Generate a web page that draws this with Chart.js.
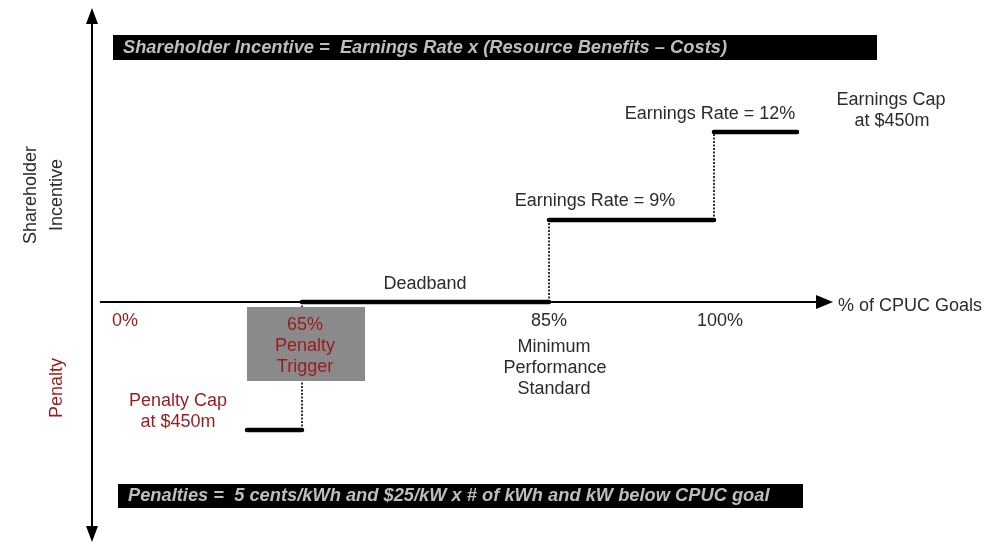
<!DOCTYPE html>
<html>
<head>
<meta charset="utf-8">
<script src="https://cdn.jsdelivr.net/npm/chart.js@4"></script>
<style>
  body { margin: 0; background: #fff; }
  #wrap { width: 1003px; height: 544px; }
</style>
</head>
<body>
<div id="wrap"><canvas id="incentiveChart" width="1003" height="544"></canvas></div>
<script>
// schematic units: x runs along "% of CPUC Goals", y is the incentive level (0 = axis)
const stepStarts = [247, 302, 549, 714];
const stepEnds = [302, 549, 714, 797];
const stepLevels = [-128, 0, 82, 170];
const stepNames = ["Penalty Cap", "Deadband", "Earnings Rate = 9%", "Earnings Rate = 12%"];

const goalTicks = ["0%", "85%", "100%"];
const goalTickPos = [125, 549, 720];

const DARK = "#2b2b2b";
const RED = "#9a1b1e";
const FONT = "'Liberation Sans', Arial, sans-serif";
const F18 = "18px " + FONT;

const datasets = [];
stepStarts.forEach((x0, i) => {
  datasets.push({
    label: stepNames[i],
    data: [{ x: x0, y: stepLevels[i] }, { x: stepEnds[i], y: stepLevels[i] }],
    borderColor: "#000",
    borderWidth: 4.5,
    borderCapStyle: "round",
    pointRadius: 0,
    showLine: true,
  });
  if (i > 0) {
    datasets.push({
      label: "riser " + i,
      data: [{ x: x0, y: stepLevels[i - 1] }, { x: x0, y: stepLevels[i] }],
      borderColor: "#333",
      borderWidth: 2,
      borderDash: [2, 1.5],
      pointRadius: 0,
      showLine: true,
    });
  }
});

function text(ctx, str, x, y, color, align, font) {
  ctx.fillStyle = color;
  ctx.textAlign = align || "center";
  ctx.textBaseline = "middle";
  ctx.font = font || F18;
  ctx.fillText(str, x, y);
}

const decorations = {
  id: "decorations",
  beforeDatasetsDraw(chart) {
    const ctx = chart.ctx;
    const sx = chart.scales.x, sy = chart.scales.y;
    const px = (v) => sx.getPixelForValue(v);
    const py = (v) => sy.getPixelForValue(v);
    ctx.save();

    // banners
    ctx.fillStyle = "#000";
    ctx.fillRect(113, 35, 764, 25);
    ctx.fillRect(118, 484, 685, 24);
    ctx.font = "italic bold 18.3px " + FONT;
    ctx.fillStyle = "#bdbdbd";
    ctx.textAlign = "left";
    ctx.textBaseline = "middle";
    ctx.fillText("Shareholder Incentive =  Earnings Rate x (Resource Benefits \u2013 Costs)", 123, 48);
    ctx.fillText("Penalties =  5 cents/kWh and $25/kW x # of kWh and kW below CPUC goal", 128, 496);

    // axes
    ctx.strokeStyle = "#000";
    ctx.fillStyle = "#000";
    ctx.lineWidth = 2;
    const ax = px(92);
    ctx.beginPath();
    ctx.moveTo(ax, py(280));
    ctx.lineTo(ax, py(-225));
    ctx.stroke();
    ctx.beginPath();
    ctx.moveTo(ax, py(294)); ctx.lineTo(ax - 6, py(278)); ctx.lineTo(ax + 6, py(278)); ctx.closePath(); ctx.fill();
    ctx.beginPath();
    ctx.moveTo(ax, py(-240)); ctx.lineTo(ax - 6, py(-224)); ctx.lineTo(ax + 6, py(-224)); ctx.closePath(); ctx.fill();

    const ay = py(0);
    ctx.beginPath();
    ctx.moveTo(px(100), ay);
    ctx.lineTo(px(818), ay);
    ctx.stroke();
    ctx.beginPath();
    ctx.moveTo(px(833), ay); ctx.lineTo(px(816), ay - 7); ctx.lineTo(px(816), ay + 7); ctx.closePath(); ctx.fill();

    // axis titles
    ctx.save();
    ctx.translate(31, 195);
    ctx.rotate(-Math.PI / 2);
    text(ctx, "Shareholder", 0, 0, DARK);
    text(ctx, "Incentive", 0, 26, DARK);
    ctx.restore();
    ctx.save();
    ctx.translate(57, 388);
    ctx.rotate(-Math.PI / 2);
    text(ctx, "Penalty", 0, 0, RED);
    ctx.restore();

    // goal ticks
    goalTicks.forEach((t, i) => text(ctx, t, px(goalTickPos[i]), py(-19), i === 0 ? RED : DARK));
    text(ctx, "% of CPUC Goals", px(838), ay + 4, DARK, "left");

    // step labels
    text(ctx, "Deadband", px(425), py(18), DARK);
    text(ctx, "Earnings Rate = 9%", px(595), py(101), DARK);
    text(ctx, "Earnings Rate = 12%", px(710), py(188), DARK);
    text(ctx, "Earnings Cap", px(891), py(202), DARK);
    text(ctx, "at $450m", px(892), py(181), DARK);
    text(ctx, "Minimum", px(554), py(-45), DARK);
    text(ctx, "Performance", px(555), py(-66), DARK);
    text(ctx, "Standard", px(554), py(-87), DARK);
    text(ctx, "Penalty Cap", px(178), py(-99), RED);
    text(ctx, "at $450m", px(178), py(-120), RED);

    ctx.restore();
  },
  afterDatasetsDraw(chart) {
    const ctx = chart.ctx;
    const sx = chart.scales.x, sy = chart.scales.y;
    const px = (v) => sx.getPixelForValue(v);
    const py = (v) => sy.getPixelForValue(v);
    ctx.save();
    // gray trigger box sits over the riser
    ctx.fillStyle = "#8a8a8a";
    ctx.fillRect(px(247), py(-5), 118, 74);
    text(ctx, "65%", px(305), py(-23), RED);
    text(ctx, "Penalty", px(305), py(-44), RED);
    text(ctx, "Trigger", px(305), py(-65), RED);
    ctx.restore();
  },
};

new Chart(document.getElementById("incentiveChart").getContext("2d"), {
  type: "scatter",
  data: { datasets },
  options: {
    responsive: false,
    animation: false,
    layout: { padding: 0 },
    scales: {
      x: { type: "linear", display: false, min: 0, max: 1003 },
      y: { type: "linear", display: false, min: -242, max: 302 },
    },
    plugins: {
      legend: { display: false },
      tooltip: { enabled: false },
    },
  },
  plugins: [decorations],
});
</script>
</body>
</html>
